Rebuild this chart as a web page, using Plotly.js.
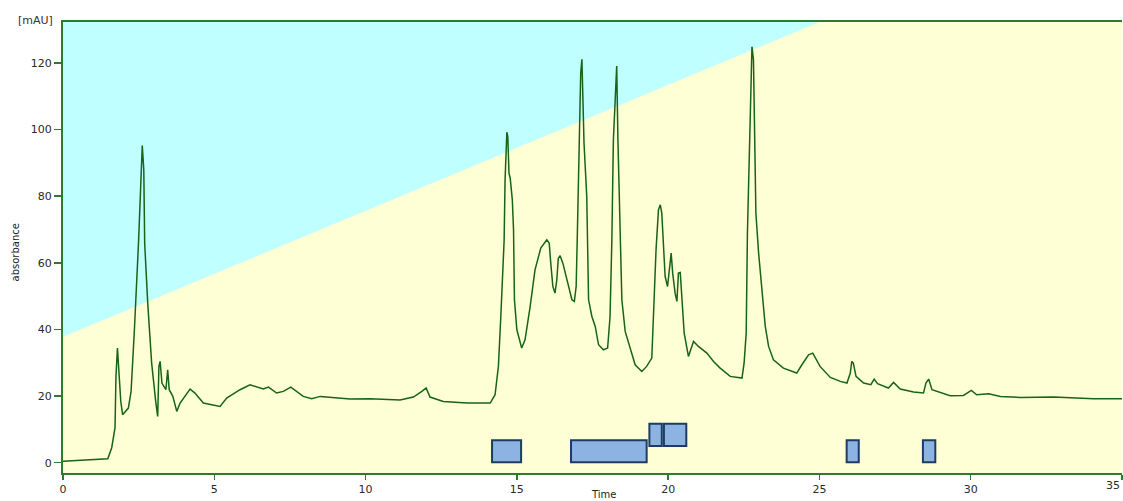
<!DOCTYPE html>
<html>
<head>
<meta charset="utf-8">
<script src="https://cdn.plot.ly/plotly-3.0.1.min.js"></script>
<style>html,body{margin:0;padding:0;background:#fff;}#chart{width:1123px;height:501px;}</style>
</head>
<body>
<div id="chart"></div>
<script>
// Chromatogram (Time in min, absorbance in mAU)
var time = [0, 1.48, 1.61, 1.72, 1.75, 1.80, 1.85, 1.91, 1.97, 2.08, 2.16, 2.25, 2.32, 2.36, 2.50, 2.62, 2.67, 2.70, 2.80, 2.93, 3.07, 3.13, 3.17, 3.21, 3.27, 3.40, 3.46, 3.51, 3.63, 3.76, 3.87, 4.20, 4.36, 4.64, 5.19, 5.41, 5.85, 6.18, 6.62, 6.79, 7.06, 7.28, 7.53, 7.94, 8.22, 8.50, 9.49, 10.15, 11.14, 11.58, 11.86, 12.0, 12.13, 12.57, 13.35, 14.12, 14.28, 14.39, 14.47, 14.53, 14.58, 14.61, 14.65, 14.67, 14.70, 14.74, 14.78, 14.81, 14.85, 14.89, 14.92, 15.0, 15.16, 15.27, 15.44, 15.60, 15.79, 15.99, 16.07, 16.12, 16.19, 16.26, 16.32, 16.37, 16.43, 16.52, 16.70, 16.82, 16.90, 16.96, 17.0, 17.05, 17.09, 17.11, 17.15, 17.18, 17.22, 17.31, 17.33, 17.37, 17.48, 17.59, 17.70, 17.86, 18.0, 18.08, 18.14, 18.19, 18.25, 18.30, 18.34, 18.38, 18.41, 18.47, 18.58, 18.74, 18.91, 19.13, 19.29, 19.46, 19.51, 19.60, 19.68, 19.74, 19.79, 19.84, 19.90, 19.98, 20.04, 20.10, 20.15, 20.23, 20.29, 20.34, 20.40, 20.45, 20.53, 20.67, 20.84, 21.0, 21.28, 21.50, 21.72, 22.05, 22.44, 22.51, 22.58, 22.62, 22.67, 22.71, 22.77, 22.82, 22.85, 22.90, 22.99, 23.10, 23.21, 23.32, 23.48, 23.81, 24.25, 24.42, 24.64, 24.78, 25.02, 25.36, 25.69, 25.91, 26.02, 26.07, 26.12, 26.21, 26.46, 26.70, 26.81, 26.92, 27.28, 27.45, 27.67, 28.11, 28.44, 28.52, 28.61, 28.72, 29.10, 29.32, 29.76, 30.02, 30.20, 30.59, 30.98, 31.64, 32.74, 34.06, 35];
var absorbance = [0.4, 1.2, 4.5, 10.5, 25.9, 34.4, 27.0, 18.4, 14.4, 15.4, 16.4, 21.4, 32.9, 39.9, 66.9, 95.2, 87.9, 65.9, 47.9, 29.9, 17.9, 13.9, 28.9, 30.4, 23.9, 21.9, 27.9, 21.9, 19.9, 15.4, 17.9, 22.1, 20.9, 17.9, 16.9, 19.4, 21.9, 23.4, 22.1, 22.7, 20.9, 21.4, 22.7, 19.9, 19.2, 19.9, 19.1, 19.2, 18.8, 19.7, 21.4, 22.4, 19.7, 18.4, 17.9, 17.9, 20.4, 28.9, 43.9, 56.9, 66.9, 84.9, 95.9, 99.2, 97.9, 86.9, 85.4, 82.9, 78.9, 69.9, 48.9, 39.9, 34.4, 36.9, 46.9, 57.9, 64.4, 66.9, 65.9, 59.9, 52.9, 50.9, 54.9, 61.4, 62.1, 59.9, 52.9, 48.9, 48.4, 52.9, 68.9, 92.9, 105.9, 116.9, 121.1, 111.4, 95.9, 79.9, 66.9, 48.9, 43.9, 40.9, 35.4, 33.9, 34.4, 43.9, 66.9, 96.9, 108.9, 119.1, 96.9, 78.9, 65.9, 48.9, 39.4, 34.9, 29.4, 27.4, 28.9, 31.4, 43.9, 63.9, 75.9, 77.4, 74.9, 64.9, 55.9, 52.9, 57.4, 62.9, 56.9, 50.9, 48.4, 56.9, 57.1, 50.9, 38.9, 31.9, 36.4, 34.9, 32.9, 30.4, 28.4, 25.9, 25.4, 29.9, 38.9, 68.9, 84.9, 102.9, 124.9, 120.9, 99.9, 74.9, 62.9, 52.9, 40.9, 34.9, 30.9, 28.4, 26.9, 29.4, 32.4, 32.9, 28.9, 25.6, 24.4, 23.9, 26.9, 30.4, 29.9, 25.9, 23.9, 23.4, 25.1, 23.7, 22.4, 24.1, 22.1, 21.2, 20.9, 23.9, 25.1, 21.9, 20.7, 20.1, 20.2, 21.7, 20.4, 20.7, 19.9, 19.6, 19.7, 19.2, 19.2];

// Gradient (% B drawn on mAU scale)
var gradientTime = [0, 35];
var gradientLevel = [37.8, 170.1];

// Collected fractions
var fracStart = [14.18, 16.79, 19.38, 19.86, 25.90, 28.42];
var fracEnd   = [15.14, 19.29, 19.79, 20.60, 26.30, 28.83];
var fracLow   = [0.1, 0.1, 5.0, 5.0, 0.1, 0.1];
var fracHigh  = [6.7, 6.7, 11.7, 11.7, 6.7, 6.7];

var yTicks = [0, 20, 40, 60, 80, 100, 120];
var xTicks = [0, 5, 10, 15, 20, 25, 30];
var xLastTick = 35;

var fracCenter = fracStart.map(function(s, i){ return (s + fracEnd[i]) / 2; });
var fracWidth = fracStart.map(function(s, i){ return fracEnd[i] - s; });
var fracSize = fracLow.map(function(l, i){ return fracHigh[i] - l; });

var green = '#2f7a2f';
var traces = [
  {x: gradientTime, y: gradientLevel, type: 'scatter', mode: 'lines', line: {width: 0, color: 'rgba(0,0,0,0)'}, hoverinfo: 'skip', showlegend: false},
  {x: gradientTime, y: [1000, 1000], type: 'scatter', mode: 'lines', fill: 'tonexty', fillcolor: '#c0ffff', line: {width: 0, color: 'rgba(0,0,0,0)'}, hoverinfo: 'skip', showlegend: false},
  {x: fracCenter, y: fracSize, base: fracLow, width: fracWidth, type: 'bar', marker: {color: '#8db3e2', line: {color: '#1c3d63', width: 2}}, hoverinfo: 'skip', showlegend: false},
  {x: time, y: absorbance, type: 'scatter', mode: 'lines', line: {color: '#176417', width: 1.5}, hoverinfo: 'skip', showlegend: false}
];

var fontFam = 'DejaVu Sans, Verdana, sans-serif';
var tickFont = {family: fontFam, size: 11, color: '#2a2a2a'};
var layout = {
  width: 1123, height: 501,
  margin: {l: 63, r: 1, t: 22, b: 28, pad: 0},
  paper_bgcolor: '#ffffff',
  plot_bgcolor: '#ffffd6',
  barmode: 'overlay',
  showlegend: false,
  xaxis: {
    range: [0, 35], tickvals: xTicks.concat([xLastTick]), ticktext: xTicks.map(String).concat(['']),
    showgrid: false, zeroline: false,
    showline: true, linecolor: green, linewidth: 2, mirror: true,
    ticks: 'outside', ticklen: 5, tickwidth: 1.5, tickcolor: green,
    tickfont: tickFont
  },
  yaxis: {
    range: [-3.1, 132.3], tickvals: yTicks, ticktext: yTicks.map(String),
    showgrid: false, zeroline: false,
    showline: true, linecolor: green, linewidth: 2,
    ticks: 'outside', ticklen: 7, tickwidth: 1.5, tickcolor: green,
    tickfont: tickFont
  },
  annotations: [
    {text: String(xLastTick), xref: 'x', yref: 'paper', x: xLastTick, y: 0, xanchor: 'right', yanchor: 'top', yshift: -4, showarrow: false, font: tickFont},
    {text: '[mAU]', xref: 'paper', yref: 'paper', x: 0, y: 1, xanchor: 'right', yanchor: 'middle', xshift: -8, yshift: 2, showarrow: false, font: {family: fontFam, size: 11, color: '#333333'}},
    {text: 'absorbance', xref: 'paper', yref: 'paper', x: 0, y: 0.5, xanchor: 'center', yanchor: 'middle', xshift: -48, yshift: -5, textangle: -90, showarrow: false, font: {family: fontFam, size: 10, color: '#222222'}},
    {text: 'Time', xref: 'paper', yref: 'paper', x: 0.51, y: 0, xanchor: 'center', yanchor: 'top', yshift: -14, showarrow: false, font: {family: fontFam, size: 10, color: '#222222'}}
  ]
};

Plotly.newPlot('chart', traces, layout, {displayModeBar: false, staticPlot: true});
</script>
</body>
</html>
